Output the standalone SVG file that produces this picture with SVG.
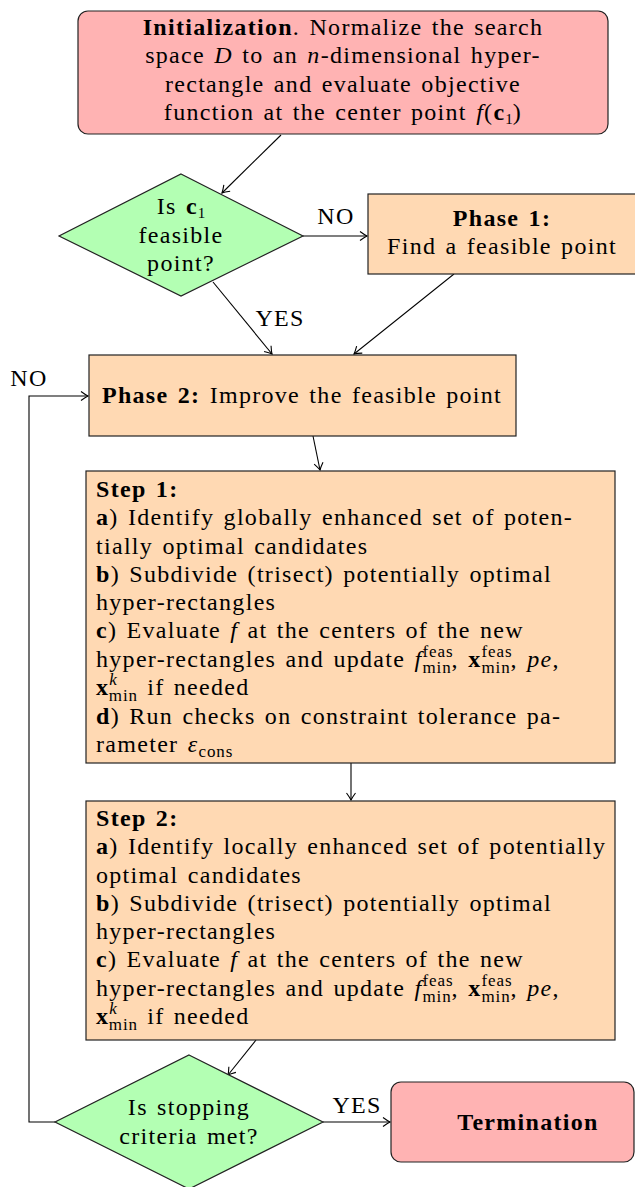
<svg xmlns="http://www.w3.org/2000/svg" width="635" height="1187" viewBox="0 0 635 1187">
<style>
.t{font-family:"Liberation Serif","Times New Roman",serif;font-size:24px;fill:#000;letter-spacing:1.3px;word-spacing:2px}
.c{text-anchor:middle}
.b{font-weight:bold}
.i{font-style:italic}
.s{font-size:17px;letter-spacing:0.9px}
.one{font-size:15px;letter-spacing:0}
.box{stroke:#222;stroke-width:1.2}
.pink{fill:#ffb3b3}
.peach{fill:#ffd9b3}
.green{fill:#b3ffb3}
.ln{fill:none;stroke:#000;stroke-width:1.1}
</style>
<defs>
<marker id="ar" markerWidth="12" markerHeight="12" refX="0" refY="0" viewBox="-8 -6 10 12" orient="auto" markerUnits="userSpaceOnUse">
<path d="M-7,-4.5 Q-2.5,-1.2 0,0 Q-2.5,1.2 -7,4.5" fill="none" stroke="#000" stroke-width="1.1"/>
</marker>
</defs>
<g id="connectors">
<line class="ln" x1="281" y1="135" x2="222" y2="193" marker-end="url(#ar)"/>
<line class="ln" x1="303" y1="236" x2="367" y2="236" marker-end="url(#ar)"/>
<line class="ln" x1="213" y1="282" x2="272" y2="354" marker-end="url(#ar)"/>
<line class="ln" x1="454" y1="274" x2="354" y2="354" marker-end="url(#ar)"/>
<line class="ln" x1="313" y1="436" x2="320" y2="470" marker-end="url(#ar)"/>
<line class="ln" x1="351" y1="763" x2="351" y2="800" marker-end="url(#ar)"/>
<line class="ln" x1="256" y1="1040" x2="228" y2="1075" marker-end="url(#ar)"/>
<line class="ln" x1="323" y1="1122" x2="390" y2="1122" marker-end="url(#ar)"/>
<polyline class="ln" points="55,1122 29,1122 29,396 88,396" marker-end="url(#ar)"/>
<text class="t" x="336" y="224" text-anchor="middle">NO</text>
<text class="t" x="280" y="326" text-anchor="middle">YES</text>
<text class="t" x="29" y="386" text-anchor="middle">NO</text>
<text class="t" x="357" y="1113" text-anchor="middle">YES</text>
</g>
<g id="init">
<rect class="box pink" x="78" y="11" width="530" height="123" rx="10"/>
<text class="t c" x="343" y="35"><tspan class="b">Initialization</tspan>. Normalize the search</text>
<text class="t c" x="343" y="63">space <tspan class="i">D</tspan> to an <tspan class="i">n</tspan>-dimensional hyper-</text>
<text class="t c" x="343" y="92">rectangle and evaluate objective</text>
<text class="t c" x="343" y="120">function at the center point <tspan class="i">f</tspan>(<tspan class="b">c</tspan><tspan class="one" dy="4">1</tspan><tspan dy="-4">)</tspan></text>
</g>
<g id="feasible">
<polygon class="box green" points="181,174 303,236 181,296 59,236"/>
<text class="t c" x="181" y="214">Is <tspan class="b">c</tspan><tspan class="one" dy="4">1</tspan></text>
<text class="t c" x="181" y="243">feasible</text>
<text class="t c" x="181" y="271">point?</text>
</g>
<g id="phase1">
<rect class="box peach" x="368" y="194" width="270" height="80"/>
<text class="t c b" x="502" y="226">Phase 1:</text>
<text class="t c" x="502" y="254">Find a feasible point</text>
</g>
<g id="phase2">
<rect class="box peach" x="89" y="355" width="427" height="81"/>
<text class="t c" x="302" y="403"><tspan class="b">Phase 2:</tspan> Improve the feasible point</text>
</g>
<g id="step1">
<rect class="box peach" x="86" y="471" width="529" height="292"/>
<text class="t b" x="96" y="497">Step 1:</text>
<text class="t" x="96" y="525"><tspan class="b">a</tspan>) Identify globally enhanced set of poten-</text>
<text class="t" x="96" y="554">tially optimal candidates</text>
<text class="t" x="96" y="582"><tspan class="b">b</tspan>) Subdivide (trisect) potentially optimal</text>
<text class="t" x="96" y="610">hyper-rectangles</text>
<text class="t" x="96" y="638"><tspan class="b">c</tspan>) Evaluate <tspan class="i">f</tspan> at the centers of the new</text>
<text class="t" x="96" y="667">hyper-rectangles and update <tspan class="i">f</tspan><tspan class="s" dy="-10">feas</tspan><tspan class="s" dx="-31" dy="16">min</tspan><tspan dy="-6">, </tspan><tspan class="b">x</tspan><tspan class="s" dy="-10">feas</tspan><tspan class="s" dx="-31" dy="16">min</tspan><tspan dy="-6">, </tspan><tspan class="i">pe</tspan>,</text>
<text class="t" x="96" y="695"><tspan class="b">x</tspan><tspan class="s i" dy="-10">k</tspan><tspan class="s" dx="-9" dy="16">min</tspan><tspan dy="-6"> if needed</tspan></text>
<text class="t" x="96" y="724"><tspan class="b">d</tspan>) Run checks on constraint tolerance pa-</text>
<text class="t" x="96" y="752">rameter <tspan class="i">ε</tspan><tspan class="s" dy="5">cons</tspan></text>
</g>
<g id="step2">
<rect class="box peach" x="86" y="801" width="529" height="239"/>
<text class="t b" x="96" y="826">Step 2:</text>
<text class="t" x="96" y="854"><tspan class="b">a</tspan>) Identify locally enhanced set of potentially</text>
<text class="t" x="96" y="883">optimal candidates</text>
<text class="t" x="96" y="911"><tspan class="b">b</tspan>) Subdivide (trisect) potentially optimal</text>
<text class="t" x="96" y="939">hyper-rectangles</text>
<text class="t" x="96" y="967"><tspan class="b">c</tspan>) Evaluate <tspan class="i">f</tspan> at the centers of the new</text>
<text class="t" x="96" y="996">hyper-rectangles and update <tspan class="i">f</tspan><tspan class="s" dy="-10">feas</tspan><tspan class="s" dx="-31" dy="16">min</tspan><tspan dy="-6">, </tspan><tspan class="b">x</tspan><tspan class="s" dy="-10">feas</tspan><tspan class="s" dx="-31" dy="16">min</tspan><tspan dy="-6">, </tspan><tspan class="i">pe</tspan>,</text>
<text class="t" x="96" y="1024"><tspan class="b">x</tspan><tspan class="s i" dy="-10">k</tspan><tspan class="s" dx="-9" dy="16">min</tspan><tspan dy="-6"> if needed</tspan></text>
</g>
<g id="stop">
<polygon class="box green" points="189,1055 323,1122 189,1189 55,1122"/>
<text class="t c" x="189" y="1115">Is stopping</text>
<text class="t c" x="189" y="1144">criteria met?</text>
</g>
<g id="termination">
<rect class="box pink" x="391" y="1082" width="243" height="80" rx="10"/>
<text class="t c b" x="528" y="1130">Termination</text>
</g>
</svg>
